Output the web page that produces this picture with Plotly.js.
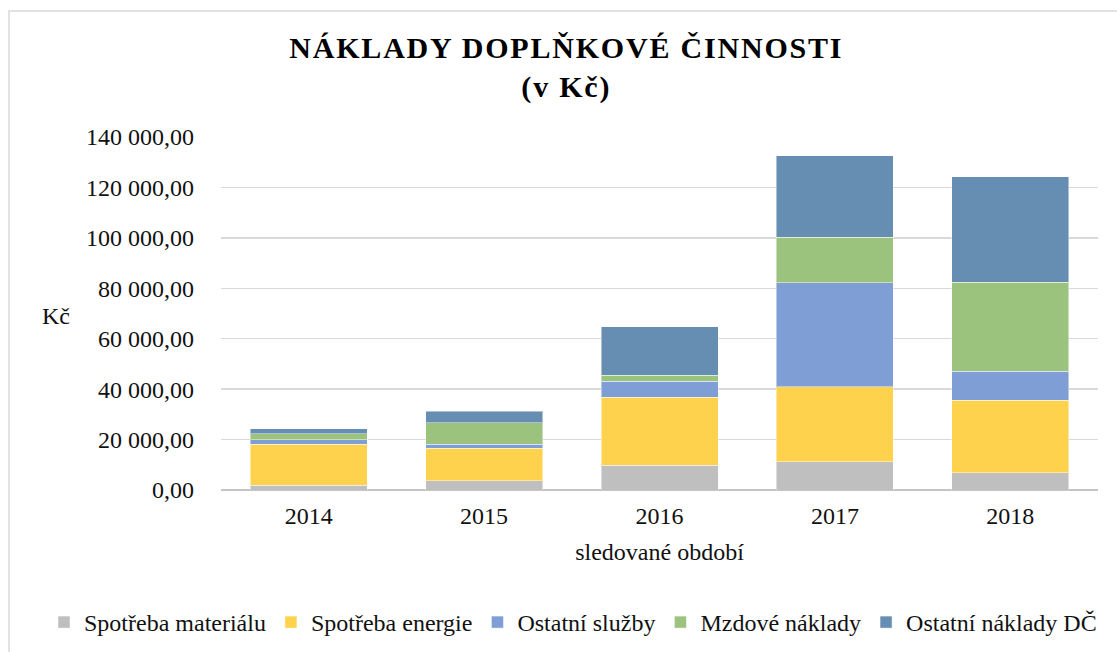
<!DOCTYPE html>
<html>
<head>
<meta charset="utf-8">
<script src="https://cdn.plot.ly/plotly-3.0.1.min.js"></script>
<style>
html, body { margin: 0; padding: 0; background: #fff; overflow: hidden; }
#chart { width: 1117px; height: 652px; }
#frame { position: absolute; left: 8px; top: 10px; width: 1200px; height: 700px;
  border-top: 2px solid #e2e2e2; border-left: 2px solid #e2e2e2; pointer-events: none; }
.gtitle { letter-spacing: 1.8px; }
</style>
</head>
<body>
<div id="chart"></div>
<div id="frame"></div>
<script>
const years = ['2014', '2015', '2016', '2017', '2018'];
const spotrebaMaterialu = [1900, 3700, 9900, 11300, 6900];
const spotrebaEnergie = [16200, 12800, 26800, 29600, 28600];
const ostatniSluzby = [1900, 1700, 6400, 41300, 11500];
const mzdoveNaklady = [2400, 8400, 2400, 18000, 35400];
const ostatniNakladyDC = [1900, 4700, 19200, 32300, 41900];
const yTickVals = [0, 20000, 40000, 60000, 80000, 100000, 120000, 140000];
const yTickText = ['0,00', '20 000,00', '40 000,00', '60 000,00', '80 000,00', '100 000,00', '120 000,00', '140 000,00'];

const font = 'Liberation Serif, Times New Roman, serif';
function bar(name, values, color) {
  return {
    type: 'bar', name: name, x: years, y: values,
    marker: { color: color, line: { color: 'rgba(255,255,255,0.45)', width: 1 } },
    hoverinfo: 'x+y+name'
  };
}
const data = [
  bar('Spotřeba materiálu', spotrebaMaterialu, 'rgb(191,191,191)'),
  bar('Spotřeba energie', spotrebaEnergie, 'rgb(254,210,76)'),
  bar('Ostatní služby', ostatniSluzby, 'rgb(127,158,214)'),
  bar('Mzdové náklady', mzdoveNaklady, 'rgb(155,195,125)'),
  bar('Ostatní náklady DČ', ostatniNakladyDC, 'rgb(102,141,178)')
];

const layout = {
  width: 1117, height: 652,
  paper_bgcolor: '#fff', plot_bgcolor: '#fff',
  barmode: 'stack', bargap: 0.333,
  margin: { l: 221, r: 19, t: 137, b: 162, autoexpand: false },
  font: { family: font, size: 24, color: '#111' },
  title: {
    text: '<b>NÁKLADY DOPLŇKOVÉ ČINNOSTI<br>(v Kč)</b>',
    font: { family: font, size: 30, color: '#000' },
    x: 0.507, xref: 'container', xanchor: 'center',
    y: 1 - 58 / 652, yref: 'container', yanchor: 'top'
  },
  xaxis: {
    type: 'category', showgrid: false, zeroline: false,
    showline: false, ticks: '',
    tickfont: { family: font, size: 24, color: '#111' },
    ticklabelstandoff: 9,
    title: { text: 'sledované období', font: { family: font, size: 24, color: '#111' }, standoff: 15 }
  },
  yaxis: {
    range: [0, 140000], tickvals: yTickVals, ticktext: yTickText,
    showgrid: true, gridcolor: '#d9d9d9', gridwidth: 1.5,
    zeroline: true, zerolinecolor: '#c4c4c4', zerolinewidth: 2,
    showline: false, ticks: '',
    tickfont: { family: font, size: 24, color: '#111' },
    ticklabelstandoff: 26,
    fixedrange: true
  },
  legend: {
    orientation: 'h', traceorder: 'normal',
    xref: 'paper', yref: 'paper',
    x: (44 - 221) / 877, xanchor: 'left', y: (490 - 600) / 353, yanchor: 'top',
    font: { family: font, size: 24, color: '#111' },
    itemwidth: 30
  },
  annotations: [{
    text: 'Kč', xref: 'paper', yref: 'paper',
    x: (56 - 221) / 877, y: (490 - 316) / 353,
    xanchor: 'center', yanchor: 'middle', showarrow: false,
    font: { family: font, size: 24, color: '#111' }
  }]
};

Plotly.newPlot('chart', data, layout, { displayModeBar: false, staticPlot: true });
</script>
</body>
</html>
